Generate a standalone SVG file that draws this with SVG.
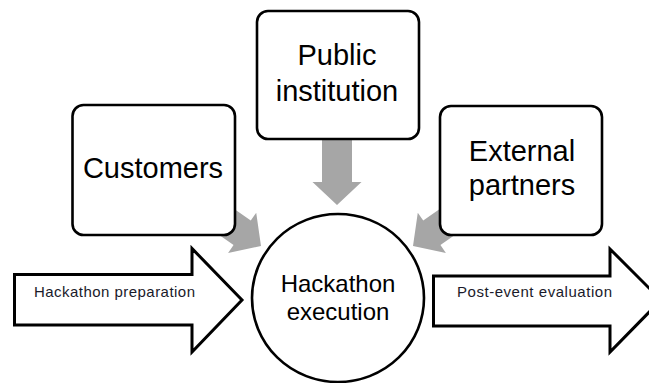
<svg xmlns="http://www.w3.org/2000/svg" width="649" height="383" viewBox="0 0 649 383">
<defs>
<style>
.box{fill:#fff;stroke:#000;stroke-width:2.6}
.big{font-family:"Liberation Sans",Arial,sans-serif;font-size:29px;fill:#000;text-anchor:middle}
.mid{font-family:"Liberation Sans",Arial,sans-serif;font-size:24px;fill:#000;text-anchor:middle}
.small{font-family:"Liberation Sans",Arial,sans-serif;font-size:15px;fill:#1a1a2a}
.gray{fill:#a6a6a6}
.flow{fill:#fff;stroke:#000;stroke-width:3;stroke-linejoin:miter}
</style>
<path id="dn" d="M0,0 L-24.5,-23 L-15,-23 L-15,-65 L15,-65 L15,-23 L24.5,-23 Z"/>
</defs>
<rect width="649" height="383" fill="#fff"/>
<g id="connectors">
<use href="#dn" class="gray" transform="translate(337,205)"/>
<use href="#dn" class="gray" transform="translate(261,246) rotate(-55)"/>
<use href="#dn" class="gray" transform="translate(413,246) rotate(55)"/>
</g>
<g id="customers">
<rect class="box" x="72.5" y="105" width="162.5" height="130" rx="11"/>
<text class="big" x="153" y="178">Customers</text>
</g>
<g id="public-institution">
<rect class="box" x="257" y="11" width="162" height="128" rx="11"/>
<text class="big" x="337" y="65">Public</text>
<text class="big" x="337" y="101">institution</text>
</g>
<g id="external-partners">
<rect class="box" x="440" y="106" width="162" height="129" rx="11"/>
<text class="big" x="522" y="161">External</text>
<text class="big" x="522" y="195">partners</text>
</g>
<g id="hackathon-preparation">
<path class="flow" d="M14.5,274.5 L192,274.5 L192,248.5 L242,300 L192,352 L192,325 L14.5,325 Z"/>
<text class="small" x="34" y="297" textLength="161" lengthAdjust="spacing">Hackathon preparation</text>
</g>
<g id="post-event-evaluation">
<path class="flow" d="M433.5,276 L610,276 L610,249 L661,300 L610,352 L610,326 L433.5,326 Z"/>
<text class="small" x="457" y="297" textLength="155" lengthAdjust="spacing">Post-event evaluation</text>
</g>
<g id="hackathon-execution">
<ellipse class="box" cx="338" cy="298" rx="86" ry="84"/>
<text class="mid" x="338" y="292">Hackathon</text>
<text class="mid" x="338" y="320">execution</text>
</g>
</svg>
